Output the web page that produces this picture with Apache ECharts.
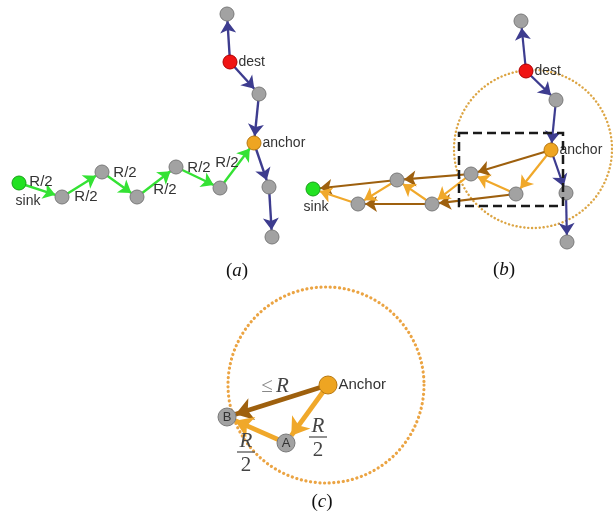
<!DOCTYPE html>
<html>
<head>
<meta charset="utf-8">
<script src="https://cdn.jsdelivr.net/npm/echarts@6/dist/echarts.min.js"></script>
<style>
html, body { margin: 0; padding: 0; background: #fff; }
#main { width: 613px; height: 521px; }
</style>
</head>
<body>
<div id="main"></div>
<script>
var myChart = echarts.init(document.getElementById('main'));

/* nodes: id, x, y, kind, text */
var nodesA = [
	['a0', 19, 183, 'sink', 'sink'],
	['a1', 62, 197, 'relay'],
	['a2', 102, 172, 'relay'],
	['a3', 137, 197, 'relay'],
	['a4', 176, 167, 'relay'],
	['a5', 220, 188, 'relay'],
	['aA', 254, 143, 'anchor', 'anchor'],
	['aU', 259, 94, 'relay'],
	['aD', 230, 62, 'dest', 'dest'],
	['aT', 227, 14, 'relay'],
	['aL', 269, 187, 'relay'],
	['aB', 272, 237, 'relay']
];
var nodesB = [
	['b0', 313, 189, 'sink', 'sink'],
	['b1', 358, 204, 'relay'],
	['b2', 397, 180, 'relay'],
	['b3', 432, 204, 'relay'],
	['b4', 471, 174, 'relay'],
	['b5', 516, 194, 'relay'],
	['bA', 551, 150, 'anchor', 'anchor'],
	['bU', 556, 100, 'relay'],
	['bD', 526, 71, 'dest', 'dest'],
	['bT', 521, 21, 'relay'],
	['bL', 566, 193, 'relay'],
	['bB', 567, 242, 'relay']
];
var nodesC = [
	['cA', 328, 385, 'anchor', 'Anchor'],
	['cB', 227, 417, 'relay', 'B'],
	['cP', 286, 443, 'relay', 'A']
];

/* links: source, target, kind */
var linksA = [
	['a0', 'a1', 'green'], ['a1', 'a2', 'green'], ['a2', 'a3', 'green'],
	['a3', 'a4', 'green'], ['a4', 'a5', 'green'], ['a5', 'aA', 'green'],
	['aD', 'aT', 'blue'], ['aD', 'aU', 'blue'], ['aU', 'aA', 'blue'],
	['aA', 'aL', 'blue'], ['aL', 'aB', 'blue']
];
var linksB = [
	['bD', 'bT', 'blue'], ['bD', 'bU', 'blue'], ['bU', 'bA', 'blue'],
	['bA', 'bL', 'blue'], ['bL', 'bB', 'blue'],
	['bA', 'b4', 'brown'], ['b4', 'b2', 'brown'], ['b2', 'b0', 'brown'],
	['b5', 'b3', 'brown'], ['b3', 'b1', 'brown'],
	['bA', 'b5', 'orange'], ['b5', 'b4', 'orange'], ['b4', 'b3', 'orange'],
	['b3', 'b2', 'orange'], ['b2', 'b1', 'orange'], ['b1', 'b0', 'orange']
];
var linksC = [
	['cA', 'cB', 'brown'], ['cA', 'cP', 'orange'], ['cP', 'cB', 'orange']
];

/* R/2 hop labels of (a): x, y */
var hopLabelsA = [[41, 182], [86, 197], [125, 173], [165, 190], [199, 168], [227, 163]];
/* fractions R/2 in (c): x, y of the bar */
var fracLabelsC = [[318, 437], [246, 452]];
/* "<= R" label in (c) */
var leLabelC = [[275, 386]];

/* range circles: cx, cy, r */
var rangeCircles = [[533, 149, 79], [326, 385, 98]];
/* dashed box in (b): x0, y0, x1, y1 */
var boxB = [[459, 133, 563, 206]];

/* captions: letter, x, y */
var captions = [['a', 237, 271], ['b', 504, 270], ['c', 322, 502]];

var nodeColors = {
	relay: ['#a2a2a2', '#7a7a7a'],
	sink: ['#22e222', '#17a017'],
	dest: ['#f01414', '#b00000'],
	anchor: ['#eea522', '#b87810']
};
var linkColors = {
	blue: '#3d3c8f',
	green: '#34e234',
	brown: '#9e600e',
	orange: '#f0a82a'
};
var labelPos = {
	a0: { position: 'bottom', offset: [9, 3] },
	b0: { position: 'bottom', offset: [3, 3] },
	cB: { position: 'inside' },
	cP: { position: 'inside' }
};

function makeNodes(list, size) {
	return list.map(function (n) {
		var c = nodeColors[n[3]];
		var item = {
			name: n[0],
			value: [n[1], n[2]],
			symbolSize: size,
			itemStyle: { color: c[0], borderColor: c[1], borderWidth: 1 }
		};
		if (n[4]) {
			var p = labelPos[n[0]] || { position: 'right' };
			item.label = {
				show: true,
				formatter: n[4],
				position: p.position,
				offset: p.offset || [0, 0],
				distance: 1,
				color: '#333',
				fontFamily: 'Arial',
				fontSize: n[0] === 'cA' ? 15 : (p.position === 'inside' ? 13 : 14)
			};
		}
		return item;
	});
}

function makeLinks(list, width, arrow) {
	return list.map(function (l) {
		return {
			source: l[0],
			target: l[1],
			symbolSize: arrow,
			lineStyle: { color: linkColors[l[2]], width: width, opacity: 1, curveness: 0 }
		};
	});
}

function graphSeries(nodes, links, size, width, arrow) {
	return {
		type: 'graph',
		coordinateSystem: 'cartesian2d',
		layout: 'none',
		silent: true,
		z: 3,
		edgeSymbol: ['none', 'arrow'],
		edgeSymbolSize: arrow,
		data: makeNodes(nodes, size),
		links: makeLinks(links, width, arrow),
		label: { show: false }
	};
}

option = {
	animation: false,
	backgroundColor: '#fff',
	grid: { left: 0, right: 0, top: 0, bottom: 0 },
	xAxis: { type: 'value', min: 0, max: 613, show: false },
	yAxis: { type: 'value', min: 0, max: 521, inverse: true, show: false },
	series: [
		{
			/* dotted range circles */
			type: 'custom',
			silent: true,
			z: 1,
			data: rangeCircles,
			renderItem: function (params, api) {
				var c = api.coord([api.value(0), api.value(1)]);
				var e = api.coord([api.value(0) + api.value(2), api.value(1)]);
				var big = params.dataIndex === 1;
				return {
					type: 'circle',
					shape: { cx: c[0], cy: c[1], r: e[0] - c[0] },
					style: {
						fill: 'none',
						stroke: big ? '#eba443' : '#dca544',
						lineWidth: big ? 3.2 : 2.4,
						lineDash: big ? [0.1, 4.6] : [0.1, 3.8],
						lineCap: 'round'
					}
				};
			}
		},
		graphSeries(nodesA, linksA, 14, 2.4, 12),
		graphSeries(nodesB, linksB, 14, 2.2, 12),
		graphSeries(nodesC, linksC, 18, 4.8, 17),
		{
			/* dashed box of (b) */
			type: 'custom',
			silent: true,
			z: 5,
			data: boxB,
			renderItem: function (params, api) {
				var p0 = api.coord([api.value(0), api.value(1)]);
				var p1 = api.coord([api.value(2), api.value(3)]);
				return {
					type: 'rect',
					shape: { x: p0[0], y: p0[1], width: p1[0] - p0[0], height: p1[1] - p0[1] },
					style: { fill: 'none', stroke: '#1a1a1a', lineWidth: 2.5, lineDash: [9, 5] }
				};
			}
		},
		{
			/* R/2 labels of (a) */
			type: 'custom',
			silent: true,
			z: 6,
			data: hopLabelsA,
			renderItem: function (params, api) {
				var p = api.coord([api.value(0), api.value(1)]);
				return {
					type: 'text',
					x: p[0], y: p[1],
					style: { text: 'R/2', font: '15px Arial', fill: '#333', align: 'center', verticalAlign: 'middle' }
				};
			}
		},
		{
			/* R/2 fractions of (c) */
			type: 'custom',
			silent: true,
			z: 6,
			data: fracLabelsC,
			renderItem: function (params, api) {
				var p = api.coord([api.value(0), api.value(1)]);
				return {
					type: 'group',
					children: [
						{ type: 'text', x: p[0], y: p[1] - 11, style: { text: 'R', font: 'italic 21px "Liberation Serif"', fill: '#444', align: 'center', verticalAlign: 'middle' } },
						{ type: 'line', shape: { x1: p[0] - 9, y1: p[1], x2: p[0] + 9, y2: p[1] }, style: { stroke: '#555', lineWidth: 1.3 } },
						{ type: 'text', x: p[0], y: p[1] + 13, style: { text: '2', font: '21px "Liberation Serif"', fill: '#444', align: 'center', verticalAlign: 'middle' } }
					]
				};
			}
		},
		{
			/* <= R label of (c) */
			type: 'custom',
			silent: true,
			z: 6,
			data: leLabelC,
			renderItem: function (params, api) {
				var p = api.coord([api.value(0), api.value(1)]);
				return {
					type: 'text',
					x: p[0], y: p[1],
					style: {
						text: '{le|≤} {r|R}',
						align: 'center', verticalAlign: 'middle',
						rich: {
							le: { font: '21px "Liberation Serif"', fill: '#888' },
							r: { font: 'italic 21px "Liberation Serif"', fill: '#444' }
						}
					}
				};
			}
		},
		{
			/* captions */
			type: 'custom',
			silent: true,
			z: 6,
			data: captions.map(function (c) { return [c[1], c[2]]; }),
			renderItem: function (params, api) {
				var p = api.coord([api.value(0), api.value(1)]);
				var letter = captions[params.dataIndex][0];
				return {
					type: 'text',
					x: p[0], y: p[1],
					style: {
						text: '{p|(}{i|' + letter + '}{p|)}',
						align: 'center', verticalAlign: 'middle',
						rich: {
							p: { font: '19px "Liberation Serif"', fill: '#111' },
							i: { font: 'italic 19px "Liberation Serif"', fill: '#111' }
						}
					}
				};
			}
		}
	]
};

myChart.setOption(option);
</script>
</body>
</html>
